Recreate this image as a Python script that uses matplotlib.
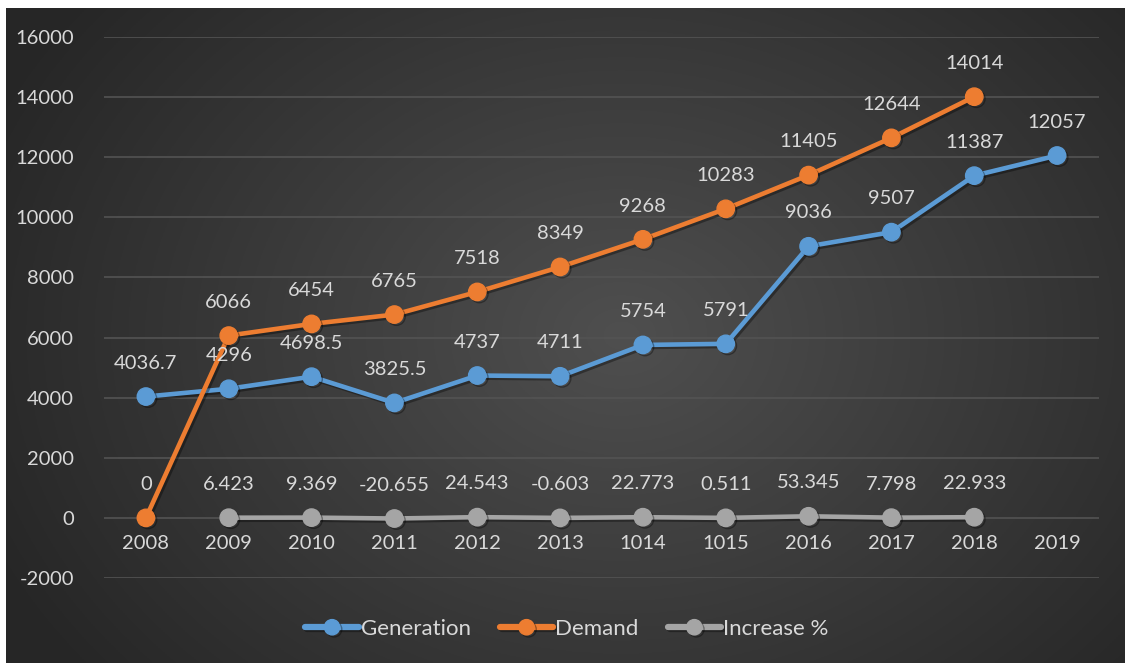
import numpy as np
import matplotlib
matplotlib.use("Agg")
import matplotlib.pyplot as plt
import matplotlib.patheffects as pe

plt.rcParams['font.family'] = ['Lato', 'DejaVu Sans']
plt.rcParams['axes.unicode_minus'] = False

years = ['2008', '2009', '2010', '2011', '2012', '2013',
         '1014', '1015', '2016', '2017', '2018', '2019']
generation = [4036.7, 4296, 4698.5, 3825.5, 4737, 4711,
              5754, 5791, 9036, 9507, 11387, 12057]
demand = [0, 6066, 6454, 6765, 7518, 8349,
          9268, 10283, 11405, 12644, 14014]
increase = [6.423, 9.369, -20.655, 24.543, -0.603,
            22.773, 0.511, 53.345, 7.798, 22.933]

text_col = '#d9d9d9'
fs = 14.5

fig = plt.figure(figsize=(11.25, 6.63), dpi=100)
fig.patch.set_facecolor('white')

# dark radial background for the chart area
bg = fig.add_axes([6 / 1125, 0, 1 - 6 / 1125, 1 - 8 / 663])
bg.set_axis_off()
yy, xx = np.mgrid[0:1:300j, 0:1:500j]
r = np.sqrt(((xx - 0.55) * 1.0) ** 2 + ((yy - 0.5) * 0.75) ** 2)
r = np.clip(r / 0.62, 0, 1)
shade = 0.31 - 0.16 * r
img = np.dstack([shade, shade, shade])
bg.imshow(img, aspect='auto', extent=[0, 1, 0, 1])
bg.set_xlim(0, 1)
bg.set_ylim(0, 1)

ax = fig.add_axes([104.5 / 1125, 85 / 663, 994 / 1125, 541 / 663])
ax.patch.set_alpha(0)
for s in ax.spines.values():
    s.set_visible(False)
ax.spines['bottom'].set_position(('data', 0))

ax.set_ylim(-2000, 16000)
ax.set_xlim(-0.5, len(years) - 0.5)
ax.set_yticks(np.arange(-2000, 16001, 2000))
ax.set_xticks(range(len(years)))
ax.set_xticklabels(years)
ax.tick_params(axis='both', length=0, labelsize=fs, labelcolor=text_col)
ax.tick_params(axis='y', pad=22)
ax.tick_params(axis='x', pad=12)
ax.grid(axis='y', color='#535353', lw=1.2)
ax.set_axisbelow(True)

shadow = [pe.SimpleLineShadow(offset=(1.5, -1.5), alpha=0.35, shadow_color='black'), pe.Normal()]

series = [
    ('Generation', list(range(12)), generation, '#5b9bd5'),
    ('Demand', list(range(11)), demand, '#ed7d31'),
    ('Increase %', list(range(1, 11)), increase, '#a5a5a5'),
]
for name, xs, ys, col in series:
    ax.plot(xs, ys, color=col, lw=3.3, marker='o', ms=12.5, label=name,
            solid_capstyle='round', path_effects=shadow, zorder=3)
    for x, y in zip(xs, ys):
        ax.annotate(f'{y:g}', (x, y), xytext=(0, 24), textcoords='offset points',
                    ha='center', va='center', fontsize=fs, color=text_col, zorder=4)

leg = fig.legend(loc='center', bbox_to_anchor=(567 / 1125, 1 - 629 / 663), ncol=3,
                 frameon=False, fontsize=16, handlelength=2.4, handletextpad=0.1,
                 columnspacing=1.3)
for t in leg.get_texts():
    t.set_color(text_col)
for h in leg.legend_handles:
    h.set_linewidth(4.5)
    h.set_markersize(11)

fig.savefig('out.png', dpi=100, facecolor=fig.get_facecolor())
